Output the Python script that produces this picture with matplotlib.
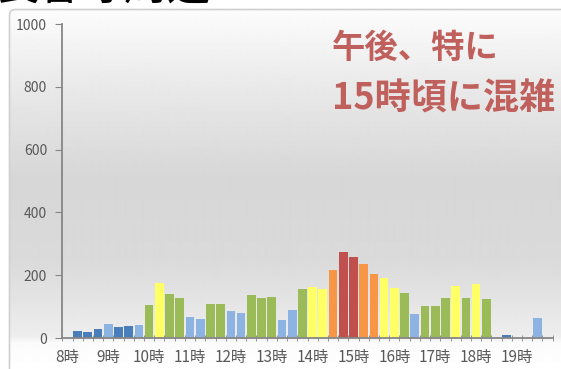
import numpy as np
import matplotlib
matplotlib.use("Agg")
import matplotlib.pyplot as plt
from matplotlib.patches import FancyBboxPatch

plt.rcParams["font.family"] = ["Noto Sans CJK JP", "DejaVu Sans"]

# 15-minute slots from 8:00 to 19:45
slots = [f"{h}:{m:02d}" for h in range(8, 20) for m in (0, 15, 30, 45)]
counts = [
    0, 21, 19, 30, 45, 35, 38, 42,           # 8時台, 9時台
    105, 175, 141, 127, 68, 59, 107, 109,    # 10時台, 11時台
    86, 81, 137, 128, 130, 58, 88, 157,      # 12時台, 13時台
    162, 157, 218, 273, 258, 236, 205, 190,  # 14時台, 15時台
    160, 142, 77, 102, 102, 128, 165, 127,   # 16時台, 17時台
    172, 123, 0, 8, 0, 0, 65, 0,             # 18時台, 19時台
]
levels = [
    "none", "d", "d", "d", "l", "d", "d", "l",
    "g", "y", "g", "g", "l", "l", "g", "g",
    "l", "l", "g", "g", "g", "l", "l", "g",
    "y", "y", "o", "r", "r", "o", "o", "y",
    "y", "g", "l", "g", "g", "g", "y", "g",
    "y", "g", "none", "d", "none", "none", "l", "none",
]
hour_labels = [f"{h}時" for h in range(8, 20)]
title_text = "長谷寺周辺"
note_line1 = "午後、特に"
note_line2 = "15時頃に混雑"

palette = {
    "d": "#4a7ebb", "l": "#8db3e2", "g": "#9bbb59",
    "y": "#ffff66", "o": "#f79646", "r": "#c0504d", "none": "#ffffff",
}

W, H = 561, 369
fig = plt.figure(figsize=(W / 100, H / 100), dpi=100)

# chart-area gradient background
bg = fig.add_axes([0, 0, 1, 1], zorder=-2)
bg.set_xlim(0, W)
bg.set_ylim(H, 0)
bg.axis("off")
stops = [(9, 0.99), (80, 0.92), (180, 0.84), (260, 0.855), (336, 0.93),
         (343, 0.985), (369, 1.0)]
ys = np.arange(9, H)
vals = np.interp(ys, [s[0] for s in stops], [s[1] for s in stops])
bg.imshow(vals[:, None], cmap="gray", vmin=0, vmax=1, aspect="auto",
          extent=(10, W + 5, H, 9), interpolation="bilinear")
frame = FancyBboxPatch((9.5, 9.5), W + 20, H + 20,
                       boxstyle="round,pad=0,rounding_size=6",
                       fc="none", ec="#d0d0d0", lw=1.2)
bg.add_patch(frame)
# heading above the chart, cropped by the picture's top edge as in the source
bg.text(-4, 10, title_text, fontsize=31, color="black", ha="left", va="bottom")

ax = fig.add_axes([62.3 / W, 1 - 338 / H, (552.7 - 62.3) / W, (338 - 24) / H])
ax.patch.set_alpha(0)
x = np.arange(len(slots))
ax.bar(x, counts, width=0.85, color=[palette[c] for c in levels],
       edgecolor="none", zorder=2)
ax.set_xlim(-0.5, len(slots) - 0.5)
ax.set_ylim(0, 1000)
ax.set_yticks(range(0, 1001, 200))
ax.set_xticks(x[::4])
ax.set_xticklabels(hour_labels)
ax.set_xticks(np.arange(-0.5, len(slots), 1), minor=True)
for side in ("top", "right"):
    ax.spines[side].set_visible(False)
for side in ("left", "bottom"):
    ax.spines[side].set_color("#868686")
    ax.spines[side].set_linewidth(1.3)
ax.tick_params(axis="y", direction="out", length=5, color="#868686",
               labelsize=10, labelcolor="#595959", pad=6)
ax.tick_params(axis="x", which="major", length=0, labelsize=11,
               labelcolor="#595959", pad=8)
ax.tick_params(axis="x", which="minor", direction="inout", length=5,
               color="#868686")

note_color = "#c0605c"
bg.text(332, 48, note_line1, fontsize=24, fontweight="bold",
        color=note_color, ha="left", va="center")
bg.text(332, 99, note_line2, fontsize=26, fontweight="bold",
        color=note_color, ha="left", va="center")

fig.savefig("out.png", dpi=100)
